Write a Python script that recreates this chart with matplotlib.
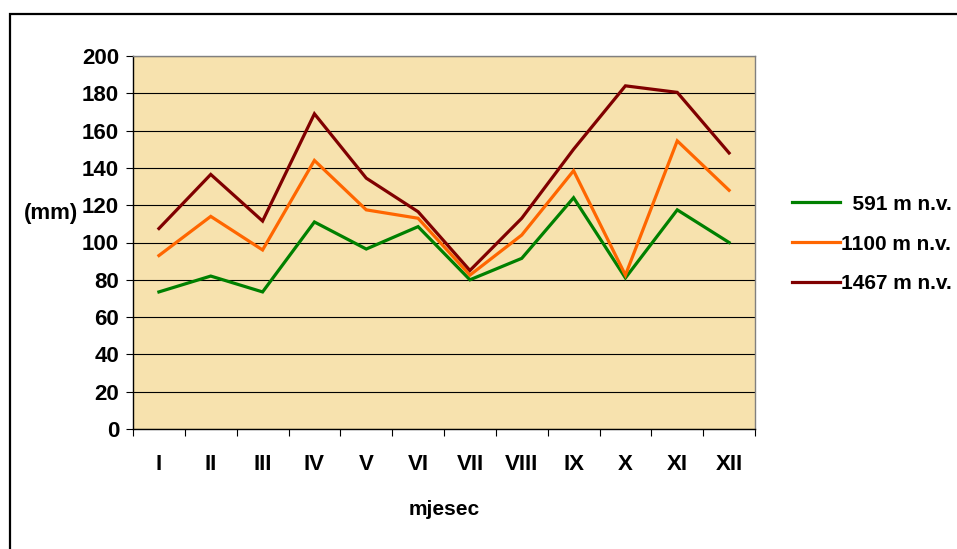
import numpy as np
import matplotlib.pyplot as plt
from matplotlib.patches import Rectangle

plt.rcParams['font.family'] = ['Liberation Sans', 'DejaVu Sans']
plt.rcParams['font.weight'] = 'bold'

# monthly precipitation (mm) at three altitudes
months = ["I", "II", "III", "IV", "V", "VI", "VII", "VIII", "IX", "X", "XI", "XII"]
p_591 = [73.5, 82, 73.5, 111, 96.5, 108.5, 80, 91.5, 124, 81, 117.5, 100]
p_1100 = [93, 114, 96, 144, 117.5, 113, 82.5, 104, 138.5, 82.5, 154.5, 128]
p_1467 = [107.5, 136.5, 111.5, 169, 134.5, 116.5, 85, 113, 150, 184, 180.5, 148]
labels = ["  591 m n.v.", "1100 m n.v.", "1467 m n.v."]
colors = ["#008000", "#FF6600", "#800000"]

fig = plt.figure(figsize=(9.57, 5.49), dpi=100)
ax = fig.add_axes([133 / 957, 1 - 429 / 549, 622 / 957, 373 / 549])
ax.set_facecolor("#F7E2AE")

x = np.arange(len(months))
for vals, lab, col in zip([p_591, p_1100, p_1467], labels, colors):
    ax.plot(x, vals, color=col, lw=2.3, label=lab, solid_joinstyle="miter")

ax.set_xlim(-0.5, len(months) - 0.5)
ax.set_ylim(0, 200)
ax.set_yticks(np.arange(0, 201, 20))
ax.yaxis.grid(True, color="black", lw=0.8)
ax.set_axisbelow(True)

# ticks between categories, labels at centres
ax.set_xticks(np.arange(-0.5, len(months)), minor=False)
ax.set_xticklabels([])
ax.set_xticks(x, minor=True)
ax.set_xticklabels(months, minor=True, fontsize=16, fontweight="bold")
ax.tick_params(axis="x", which="minor", length=0, pad=18)
ax.tick_params(axis="x", which="major", length=5, width=0.8, direction="out")
ax.tick_params(axis="y", length=5, width=0.8, pad=5, labelsize=16)

for s in ["top", "right"]:
    ax.spines[s].set_color("#808080")
    ax.spines[s].set_linewidth(1.0)
for s in ["left", "bottom"]:
    ax.spines[s].set_color("black")
    ax.spines[s].set_linewidth(1.0)

ax.set_xlabel("mjesec", fontsize=15, fontweight="bold", labelpad=18)
ax.set_ylabel("(mm)", fontsize=16, fontweight="bold", rotation=0)
ax.yaxis.set_label_coords(-0.132, 0.55)

fig.legend(loc="center left", bbox_to_anchor=(773 / 957, 1 - 244 / 549), frameon=False,
           fontsize=15, handlelength=2.3, handletextpad=0.08, labelspacing=1.0)

# outer chart border (cut off on right and bottom)
fig.patches.append(Rectangle((10 / 957, -0.1), 2, 1 - 14 / 549 + 0.1, fill=False,
                             edgecolor="black", lw=1.6, transform=fig.transFigure))

fig.savefig("out.png", dpi=100)
